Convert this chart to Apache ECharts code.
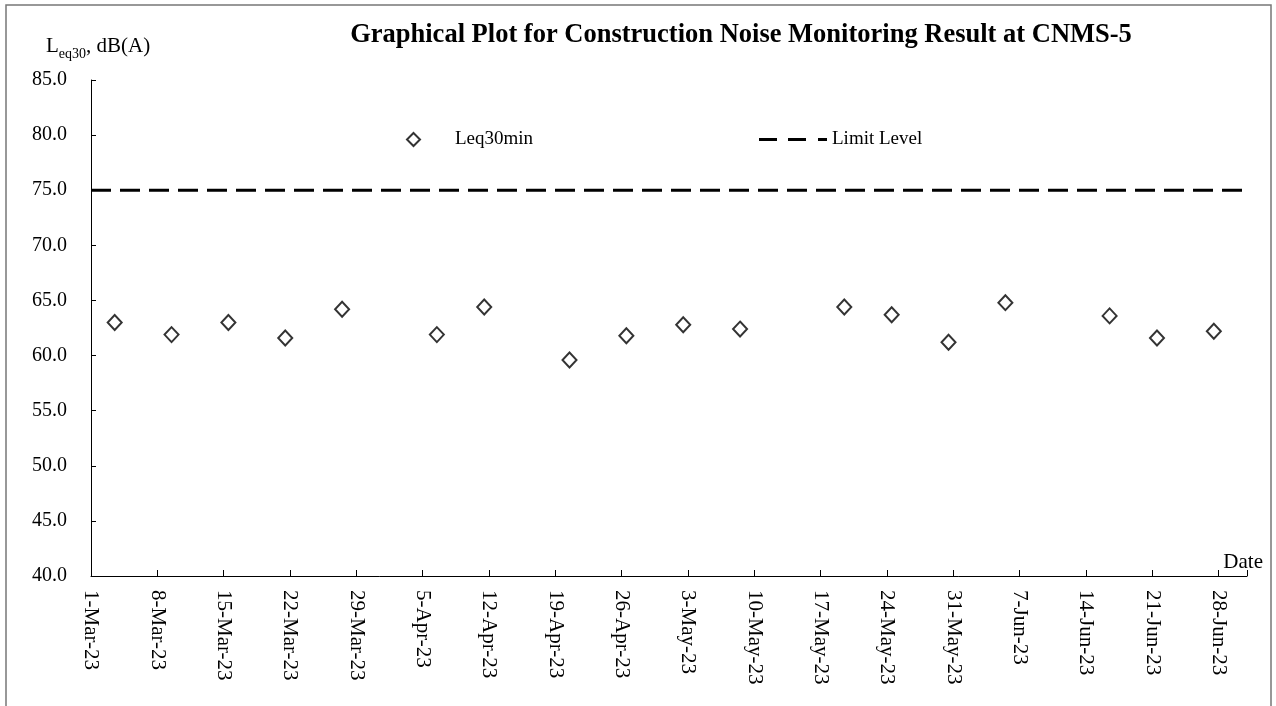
<!DOCTYPE html>
<html>
<head>
<meta charset="utf-8">
<script src="https://cdn.jsdelivr.net/npm/echarts@6/dist/echarts.min.js"></script>
<style>
html,body{margin:0;padding:0;background:#fff;}
#chart{width:1276px;height:706px;}
</style>
</head>
<body>
<div id="chart"></div>
<script>
// ---- data ----
var measureDates = ['2023-03-03','2023-03-09','2023-03-15','2023-03-21','2023-03-27','2023-04-06','2023-04-11','2023-04-20','2023-04-26','2023-05-02','2023-05-08','2023-05-19','2023-05-24','2023-05-30','2023-06-05','2023-06-16','2023-06-21','2023-06-27'];
var leq30Values = [63.0, 61.9, 63.0, 61.6, 64.2, 61.9, 64.4, 59.6, 61.8, 62.8, 62.4, 64.4, 63.7, 61.2, 64.8, 63.6, 61.6, 62.2];
var limitLevel = 75;
var xTickLabels = ['1-Mar-23','8-Mar-23','15-Mar-23','22-Mar-23','29-Mar-23','5-Apr-23','12-Apr-23','19-Apr-23','26-Apr-23','3-May-23','10-May-23','17-May-23','24-May-23','31-May-23','7-Jun-23','14-Jun-23','21-Jun-23','28-Jun-23'];
var yTickValues = [40, 45, 50, 55, 60, 65, 70, 75, 80, 85];
var axisStart = '2023-03-01';
var axisEnd = '2023-07-01';

var DAY = 86400000;
function dayIndex(s) { return Math.round((Date.parse(s) - Date.parse(axisStart)) / DAY); }
var xMax = dayIndex(axisEnd);
// points are plotted in the middle of their day (date axis, between tick marks)
var scatterData = measureDates.map(function (d, i) { return [dayIndex(d) + 0.5, leq30Values[i]]; });
var limitData = [[0, limitLevel], [xMax, limitLevel]];

var FONT = '"Liberation Serif", "Times New Roman", serif';
var chart = echarts.init(document.getElementById('chart'), null, {renderer: 'canvas'});
chart.setOption({
  animation: false,
  backgroundColor: '#fff',
  title: {
    text: 'Graphical Plot for Construction Noise Monitoring Result at CNMS-5',
    left: 736, top: 17, textAlign: 'center',
    textStyle: {fontFamily: FONT, fontWeight: 'bold', fontSize: 26.5, color: '#000'}
  },
  legend: [{
    data: [{name: 'Leq30min', icon: 'diamond'}], left: 401, top: 125, itemWidth: 13, itemHeight: 13,
    textStyle: {fontFamily: FONT, fontSize: 19, color: '#000', padding: [0, 0, 0, 30]}
  }, {
    data: [{name: 'Limit Level', icon: 'path://M0,0h18v3h-18z M29,0h18v3h-18z M59,0h9v3h-9z'}],
    left: 754, top: 125, itemWidth: 68, itemHeight: 3,
    itemStyle: {color: '#000', borderWidth: 0},
    textStyle: {fontFamily: FONT, fontSize: 19, color: '#000'}
  }],
  grid: {left: 91, right: 29, top: 80, bottom: 130, containLabel: false},
  xAxis: {
    type: 'value', min: 0, max: xMax, interval: 7,
    axisLine: {lineStyle: {color: '#000', width: 1}},
    axisTick: {inside: true, length: 6, lineStyle: {color: '#000'}},
    splitLine: {show: false},
    axisLabel: {
      rotate: -90, margin: 14, color: '#000', fontFamily: FONT, fontSize: 21,
      formatter: function (v) { return (v % 7 === 0) ? (xTickLabels[v / 7] || '') : ''; }
    }
  },
  yAxis: {
    type: 'value', min: yTickValues[0], max: yTickValues[yTickValues.length - 1], interval: 5,
    axisLine: {show: true, lineStyle: {color: '#000', width: 1}},
    axisTick: {show: true, inside: true, length: 5, lineStyle: {color: '#000'}},
    splitLine: {show: false},
    axisLabel: {margin: 24, color: '#000', fontFamily: FONT, fontSize: 20,
      formatter: function (v) { return v.toFixed(1); }}
  },
  graphic: [
    {type: 'rect', shape: {x: 6, y: 5, width: 1265, height: 760}, style: {fill: 'none', stroke: '#777', lineWidth: 1.5}, silent: true},
    {type: 'text', left: 46, top: 36, style: {
      rich: {m: {fontFamily: FONT, fontSize: 21, color: '#000', lineHeight: 22, verticalAlign: 'bottom'},
             s: {fontFamily: FONT, fontSize: 14, color: '#000', lineHeight: 22, verticalAlign: 'bottom', padding: [0, 0, -4, 0]}},
      text: '{m|L}{s|eq30}{m|, dB(A)}'
    }},
    {type: 'text', right: 13, top: 552, style: {text: 'Date', fontFamily: FONT, fontSize: 21, fill: '#000'}}
  ],
  series: [{
    name: 'Leq30min', type: 'scatter', data: scatterData,
    symbol: 'diamond', symbolSize: [14, 15],
    itemStyle: {color: '#fff', borderColor: '#000', borderWidth: 2}
  }, {
    name: 'Limit Level', type: 'line', data: limitData, symbol: 'none',
    lineStyle: {color: '#000', width: 3, type: [20, 9]},
    itemStyle: {color: '#000'}
  }]
});
</script>
</body>
</html>
